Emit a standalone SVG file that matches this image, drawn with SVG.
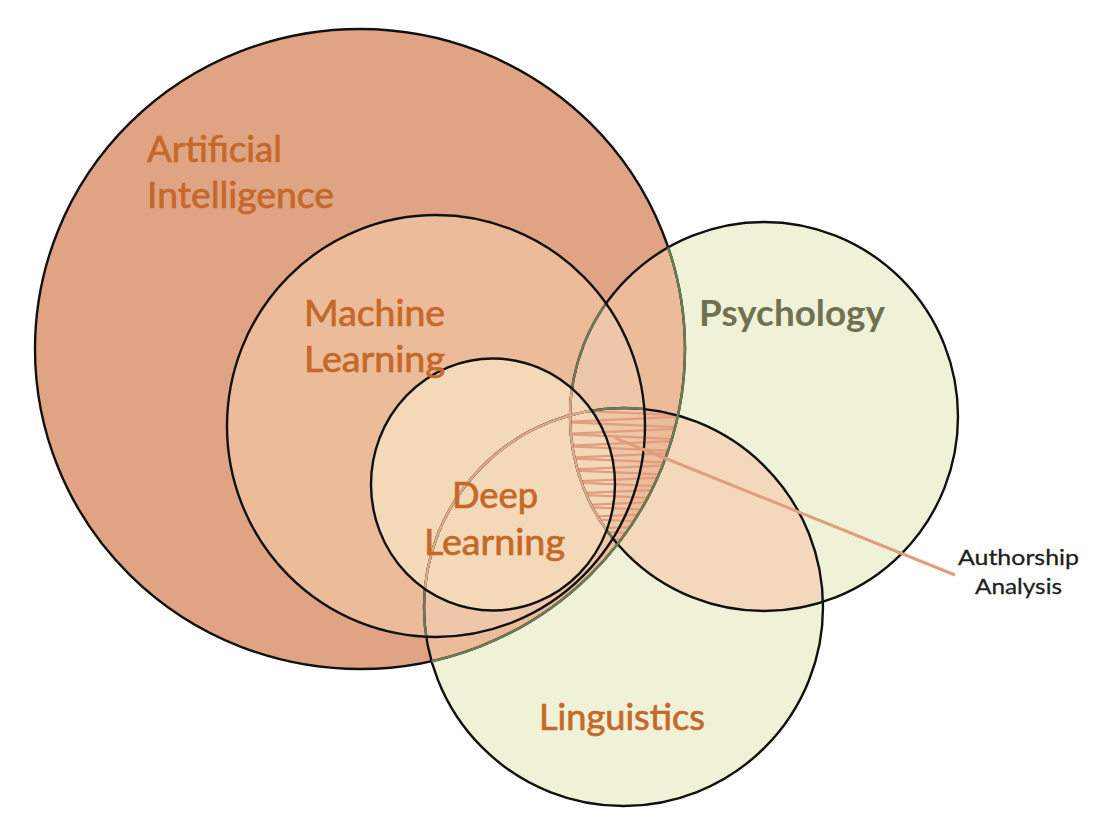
<svg xmlns="http://www.w3.org/2000/svg" xmlns:xlink="http://www.w3.org/1999/xlink" width="1102" height="826" viewBox="0 0 1102 826">
<style>
.lbl{font-family:Lato,"Open Sans","Liberation Sans",sans-serif;font-size:36px;fill:#C5692A;stroke:#C5692A;stroke-width:0.7}
.psy{font-weight:bold;fill:#6F7151;stroke:none}
.note{font-family:Lato,"Open Sans","Liberation Sans",sans-serif;font-size:22px;fill:#1E1E1E;stroke:#1E1E1E;stroke-width:0.3}
.blk{fill:none;stroke:#111;stroke-width:2.4}
.olv{fill:none;stroke:#6F7A55;stroke-width:2.4}
.sal{fill:none;stroke:#E3A98A;stroke-width:2.2}
</style>
<defs>
<ellipse id="eAI" cx="360" cy="349" rx="325" ry="320"/>
<ellipse id="eML" cx="436" cy="426" rx="209" ry="211"/>
<ellipse id="eDL" cx="493" cy="484.5" rx="122" ry="126"/>
<ellipse id="eP" cx="764" cy="416.5" rx="194" ry="194.5"/>
<ellipse id="eL" cx="623.5" cy="607" rx="199.5" ry="199"/>
<clipPath id="cAI"><use xlink:href="#eAI"/></clipPath>
<clipPath id="cML"><use xlink:href="#eML"/></clipPath>
<clipPath id="cDL"><use xlink:href="#eDL"/></clipPath>
<clipPath id="cP"><use xlink:href="#eP"/></clipPath>
<clipPath id="cL"><use xlink:href="#eL"/></clipPath>
</defs>

<g id="psychology"><use xlink:href="#eP" fill="#F0F2D8"/></g>
<g id="linguistics"><use xlink:href="#eL" fill="#F0F2D8"/></g>
<g id="overlap-psy-ling" clip-path="url(#cP)"><use xlink:href="#eL" fill="#F4D8BB"/></g>

<g id="artificial-intelligence"><use xlink:href="#eAI" fill="#E0A484"/></g>
<g id="overlap-ai" clip-path="url(#cAI)"><use xlink:href="#eP" fill="#EBBB9A"/><use xlink:href="#eL" fill="#EBBB9A"/></g>

<g id="machine-learning"><use xlink:href="#eML" fill="#EBBB9A"/></g>
<g id="overlap-ml" clip-path="url(#cML)"><use xlink:href="#eP" fill="#EEC6A9"/><use xlink:href="#eL" fill="#EEC6A9"/></g>

<g id="deep-learning"><use xlink:href="#eDL" fill="#F4D9B9"/></g>

<g id="authorship-analysis">
<g clip-path="url(#cAI)"><g clip-path="url(#cP)"><g clip-path="url(#cL)">
<polyline fill="none" stroke="#E09E7E" stroke-width="2.2" points="560,410 700,416 560,422 700,428 560,434 700,440 560,446 700,452 560,458 700,464 560,470 700,476 560,482 700,488 560,494 700,500 560,506 700,512 560,518 700,524 560,530 700,536 560,542 700,548"/>
</g></g></g>
</g>

<g id="outlines">
<use xlink:href="#eP" class="blk"/>
<use xlink:href="#eL" class="blk"/>
<g clip-path="url(#cML)"><use xlink:href="#eP" class="olv"/><use xlink:href="#eL" class="olv"/></g>
<g clip-path="url(#cDL)"><use xlink:href="#eP" class="sal"/><use xlink:href="#eL" class="sal"/></g>
<use xlink:href="#eAI" class="blk"/>
<g clip-path="url(#cP)"><use xlink:href="#eAI" class="olv"/></g>
<g clip-path="url(#cL)"><use xlink:href="#eAI" class="olv"/></g>
<use xlink:href="#eML" class="blk"/>
<use xlink:href="#eDL" class="blk"/>
</g>

<g id="connectors">
<line x1="615" y1="438" x2="955" y2="575" stroke="#E09E7E" stroke-width="3"/>
</g>

<g id="labels">
<text class="lbl" x="147" y="162" textLength="135" lengthAdjust="spacingAndGlyphs">Artificial</text>
<text class="lbl" x="147" y="208" textLength="187" lengthAdjust="spacingAndGlyphs">Intelligence</text>
<text class="lbl" x="304" y="326" textLength="141" lengthAdjust="spacingAndGlyphs">Machine</text>
<text class="lbl" x="304" y="372" textLength="141" lengthAdjust="spacingAndGlyphs">Learning</text>
<text class="lbl" x="452" y="508" textLength="86" lengthAdjust="spacingAndGlyphs">Deep</text>
<text class="lbl" x="424" y="555" textLength="141" lengthAdjust="spacingAndGlyphs">Learning</text>
<text class="lbl psy" x="699" y="326" textLength="186" lengthAdjust="spacingAndGlyphs">Psychology</text>
<text class="lbl" x="539" y="730" textLength="166" lengthAdjust="spacingAndGlyphs">Linguistics</text>
<text class="note" x="958" y="565" textLength="121" lengthAdjust="spacingAndGlyphs">Authorship</text>
<text class="note" x="975" y="594" textLength="87" lengthAdjust="spacingAndGlyphs">Analysis</text>
</g>
</svg>
